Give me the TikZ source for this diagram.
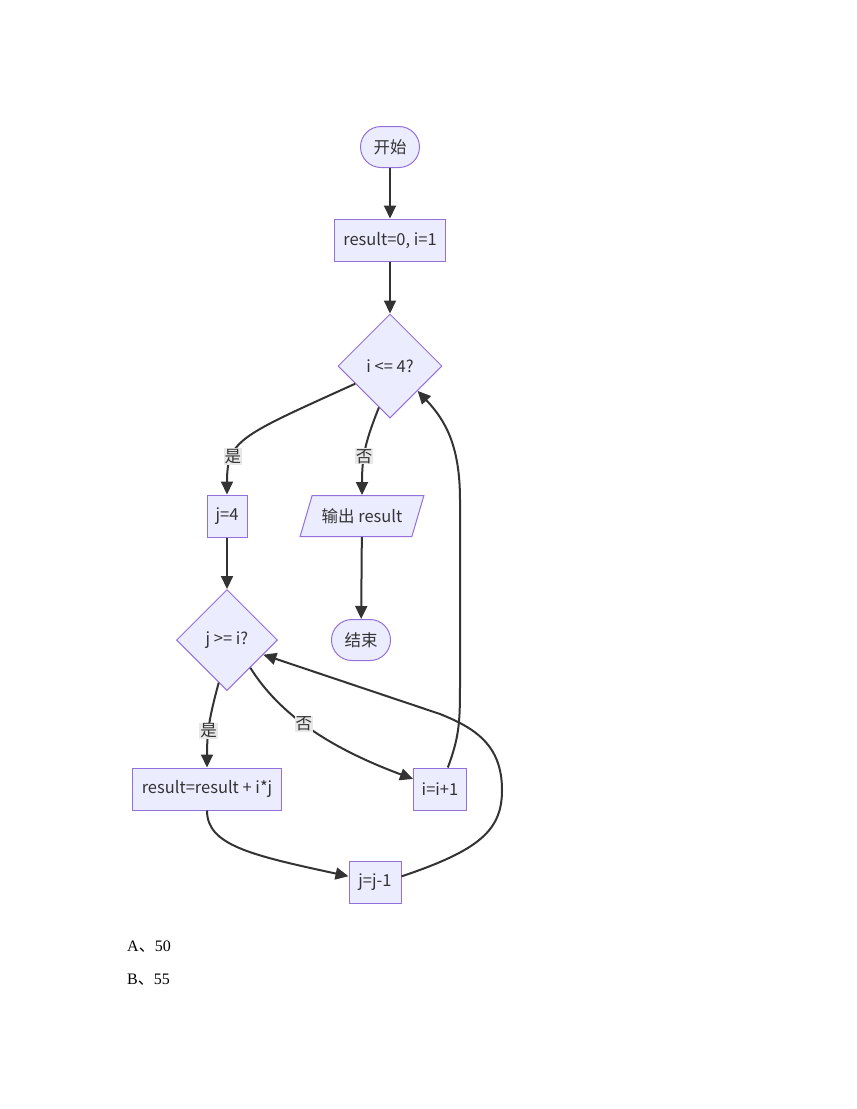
\documentclass[tikz,border=0pt]{standalone}
\usepackage{fontspec}
\setmainfont{Noto Sans CJK SC}
\newfontfamily\optfont{Liberation Serif}
\newfontfamily\cjk{Noto Sans CJK SC}
\usetikzlibrary{arrows, arrows.meta}
\usetikzlibrary{calc}
\usetikzlibrary{shapes.geometric}
\definecolor{boxfill}{HTML}{ECECFF}
\definecolor{boxline}{HTML}{9370DB}
\definecolor{edgeline}{HTML}{333333}
\definecolor{lblfill}{HTML}{E8E8E8}
\tikzset{
  box/.style={rectangle, draw=boxline, fill=boxfill, line width=1pt, minimum height=42pt, inner xsep=0pt, text=edgeline, font=\fontsize{16.5}{19}\selectfont},
  term/.style={box, rounded corners=20.5pt, minimum width=59pt, minimum height=41pt},
  cond/.style={box, diamond, minimum width=104pt, minimum height=104pt},
  io/.style={box, trapezium, trapezium left angle=66, trapezium right angle=114, trapezium stretches=true, minimum width=125pt, minimum height=41pt},
  flow/.style={draw=edgeline, line width=2pt, -{Triangle[length=13pt, width=12pt]}},
  lbl/.style={fill=lblfill, inner sep=1pt, text=edgeline, font=\fontsize{16.5}{19}\selectfont}
}

\begin{document}
\begin{tikzpicture}[x=1pt, y=-1pt]
    \useasboundingbox (0,0) rectangle (857,1109);

    \node[term] (start) at (390,147) {开始};
    \node[box, minimum width=111pt] (init) at (390,240) {result=0, i=1};
    \node[cond] (ck_i) at (390,366) {i <= 4?};
    \node[box, minimum width=40pt] (setj) at (227,516) {j=4};
    \node[io] (output) at (362,516) {输出 result};
    \node[term] (stop) at (361,640) {结束};
    \node[cond, minimum width=101pt, minimum height=101pt] (ck_j) at (227,640) {j >= i?};
    \node[box, minimum width=149pt] (acc) at (207,789) {result=result + i*j};
    \node[box, minimum width=53pt] (inc) at (440,789) {i=i+1};
    \node[box, minimum width=52pt] (decj) at (375,882) {j=j-1};

    \draw[flow] (start) -- (init);
    \draw[flow] (init) -- (ck_i);
    \draw[flow] (ck_i.207) .. controls (240,436) and (227,440) .. node[lbl, pos=0.7] {是} (setj);
    \draw[flow] (ck_i.255) .. controls (366,440) and (362,455) .. node[lbl, pos=0.6] {否} (output);
    \draw[flow] (output) -- (stop);
    \draw[flow] (setj) -- (ck_j);
    \draw[flow] (ck_j.259) .. controls (210,715) and (207,730) .. node[lbl, pos=0.6] {是} (acc);
    \draw[flow] (ck_j.-50) .. controls (280,715) and (330,748) .. node[lbl, pos=0.45] {否} (inc);
    \draw[flow] (inc.70) .. controls (460,735) and (460,720) .. (460,680) -- (460,500) .. controls (460,445) and (445,420) .. (ck_i.-42);
    \draw[flow] (acc) .. controls (207,845) and (250,855) .. (decj);
    \draw[flow] (decj.12) .. controls (480,850) and (502,830) .. (502,790) .. controls (502,745) and (475,728) .. (440,714) -- (ck_j.-22);

    \foreach \o/\v/\y in {A/50/947, B/55/980} {
      \node[anchor=west, inner sep=0pt, font=\fontsize{16}{18}\selectfont] (opt\o) at (127,\y) {\optfont \o\cjk 、\optfont \v};
    }
\end{tikzpicture}
\end{document}
